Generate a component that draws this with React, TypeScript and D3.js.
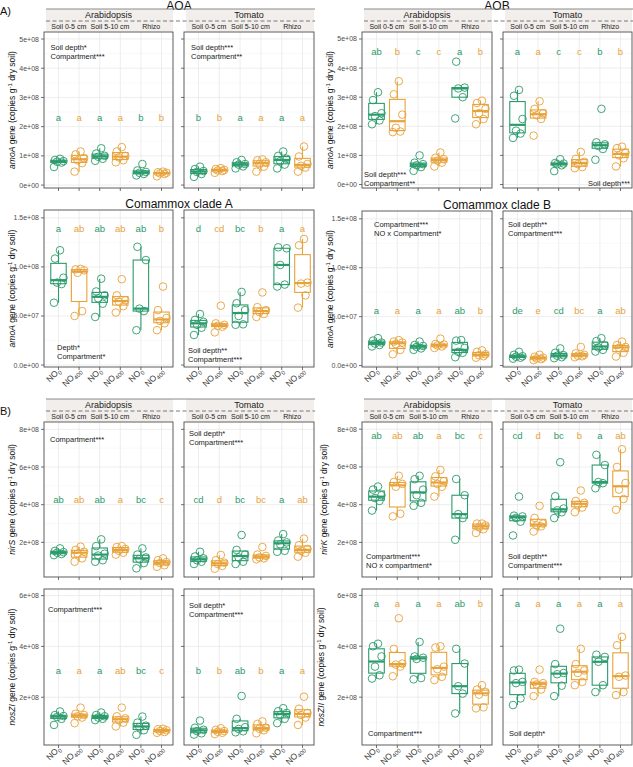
import React from "react";
import * as d3 from "d3";

const W = 633;
const H = 767;
const FONT = "'Liberation Sans', Arial, sans-serif";
const GREEN = "#2b9b6c";
const ORANGE = "#e8a23a";
const STRIP_BG = "#f2eeeb";

// categories
const plants = ["Arabidopsis", "Tomato"];
const compartments = ["Soil 0-5 cm", "Soil 5-10 cm", "Rhizo"];
const treatments = ["0", "400", "0", "400", "0", "400"]; // NO subscript

// ---- AOA amoA (copies x 1e8) ----
const aoaArabidopsis = [
  [0.62, 0.77, 0.8, 0.82, 0.86, 0.9],
  [0.46, 0.75, 0.85, 0.92, 1.05, 1.15],
  [0.83, 0.9, 0.97, 1.0, 1.08, 1.26],
  [0.78, 0.85, 0.95, 1.0, 1.15, 1.3],
  [0.33, 0.38, 0.42, 0.45, 0.5, 0.72],
  [0.3, 0.38, 0.4, 0.42, 0.44, 0.46],
];
const aoaTomato = [
  [0.28, 0.38, 0.45, 0.48, 0.55, 0.63],
  [0.42, 0.48, 0.5, 0.52, 0.55, 0.58],
  [0.57, 0.64, 0.7, 0.72, 0.78, 0.86],
  [0.46, 0.63, 0.72, 0.78, 0.85, 0.88],
  [0.57, 0.7, 0.82, 0.9, 1.0, 1.15],
  [0.46, 0.6, 0.66, 0.72, 0.98, 1.32],
];
const aoaLetters = [["a", "a", "a", "a", "b", "b"], ["b", "b", "a", "a", "a", "a"]];
const aoaStats = [["Soil depth*", "Compartment***"], ["Soil depth***", "Compartment**"]];

// ---- AOB amoA (copies x 1e8) ----
const aobArabidopsis = [
  [2.07, 2.2, 2.35, 2.45, 2.9, 3.17],
  [1.8, 1.82, 1.95, 2.4, 3.1, 3.55],
  [0.47, 0.6, 0.66, 0.7, 0.75, 1.0],
  [0.62, 0.75, 0.82, 0.87, 0.92, 1.1],
  [2.27, 3.0, 3.3, 3.33, 4.22],
  [2.07, 2.25, 2.45, 2.6, 2.8, 2.88],
];
const aobTomato = [
  [1.6, 1.75, 1.85, 2.25, 3.05, 3.25],
  [1.68, 2.25, 2.38, 2.45, 2.6, 2.86],
  [0.46, 0.66, 0.7, 0.72, 0.74, 0.87],
  [0.56, 0.6, 0.7, 0.78, 0.88, 1.12],
  [0.85, 1.22, 1.32, 1.38, 1.45, 2.6],
  [0.62, 0.9, 1.0, 1.1, 1.25, 1.3],
];
const aobLetters = [["ab", "b", "c", "c", "a", "b"], ["a", "a", "c", "c", "b", "b"]];
const aobStats = [["Soil depth***", "Compartment**"], ["Soil depth***"]];

// ---- Comammox clade A amoA (copies x 1e7) ----
const comAArabidopsis = [
  [6.35, 8.25, 8.4, 8.9, 10.85, 11.7],
  [5.0, 5.5, 9.4, 9.65, 9.75, 9.8],
  [4.9, 6.25, 6.8, 7.1, 7.5, 8.8],
  [5.35, 6.0, 6.45, 6.6, 7.1, 8.75],
  [3.55, 5.5, 5.75, 10.7, 12.05],
  [3.55, 4.25, 4.5, 4.8, 5.6, 8.0],
];
const comATomato = [
  [3.06, 3.8, 4.1, 4.4, 4.6, 5.2],
  [3.33, 3.9, 4.0, 4.1, 4.25, 6.05],
  [4.1, 4.15, 5.0, 5.6, 6.3, 7.45],
  [4.9, 5.2, 5.4, 5.6, 5.9, 7.4],
  [8.0, 8.2, 10.2, 11.9, 12.0],
  [5.85, 7.1, 8.3, 8.4, 12.2, 12.85],
];
const comALetters = [["a", "ab", "ab", "ab", "ab", "b"], ["d", "cd", "bc", "b", "a", "a"]];
const comAStats = [["Depth*", "Compartment*"], ["Soil depth**", "Compartment***"]];

// ---- Comammox clade B amoA (copies x 1e7) ----
const comBArabidopsis = [
  [1.95, 2.1, 2.25, 2.35, 2.55, 2.8],
  [1.15, 1.6, 2.2, 2.35, 2.45, 2.6],
  [1.6, 1.75, 1.9, 2.0, 2.1, 2.45],
  [1.8, 1.95, 2.05, 2.15, 2.2, 2.75],
  [0.85, 1.3, 1.4, 1.8, 2.55, 2.6],
  [0.8, 0.95, 1.05, 1.15, 1.4, 1.55],
];
const comBTomato = [
  [0.7, 0.8, 0.9, 0.95, 1.1, 1.4],
  [0.55, 0.65, 0.72, 0.8, 0.9, 1.1],
  [0.75, 0.85, 1.0, 1.05, 1.3, 1.75],
  [0.85, 0.95, 1.0, 1.1, 1.25, 1.9],
  [1.43, 1.6, 1.85, 2.05, 2.5, 2.8],
  [0.92, 1.3, 1.8, 1.9, 2.1, 2.45],
];
const comBLetters = [["a", "a", "a", "a", "ab", "b"], ["de", "e", "cd", "bc", "a", "ab"]];
const comBStats = [["Compartment***", "NO x Compartment*"], ["Soil depth**", "Compartment***"]];

// ---- nirS (copies x 1e8) ----
const nirSArabidopsis = [
  [1.32, 1.38, 1.45, 1.48, 1.55, 1.68],
  [0.97, 1.15, 1.4, 1.5, 1.6, 1.77],
  [0.97, 1.05, 1.3, 1.4, 1.8, 2.16],
  [1.35, 1.45, 1.55, 1.65, 1.75, 1.8],
  [0.62, 0.9, 1.1, 1.2, 1.35, 1.68],
  [0.7, 0.78, 0.9, 0.95, 1.05, 1.15],
];
const nirSTomato = [
  [0.85, 0.97, 1.05, 1.15, 1.25, 1.5],
  [0.6, 0.75, 0.85, 0.92, 1.05, 1.33],
  [0.85, 0.97, 1.2, 1.35, 1.6, 2.39],
  [1.1, 1.15, 1.2, 1.28, 1.35, 1.75],
  [1.5, 1.55, 1.9, 2.0, 2.1, 2.44],
  [1.24, 1.45, 1.55, 1.65, 1.85, 2.2],
];
const nirSLetters = [["ab", "ab", "ab", "a", "bc", "c"], ["cd", "d", "bc", "bc", "a", "ab"]];
const nirSStats = [["Compartment***"], ["Soil depth*", "Compartment***"]];

// ---- nirK (copies x 1e8) ----
const nirKArabidopsis = [
  [3.69, 4.2, 4.35, 4.5, 4.8, 4.96],
  [3.38, 3.52, 4.95, 5.1, 5.2, 5.53],
  [3.94, 4.1, 4.5, 4.8, 5.35, 5.53],
  [4.43, 4.95, 5.1, 5.25, 5.5, 5.84],
  [2.14, 3.29, 3.5, 4.5, 5.36],
  [2.5, 2.7, 2.8, 2.9, 3.0, 3.0],
];
const nirKTomato = [
  [2.37, 3.1, 3.3, 3.38, 3.42, 4.43],
  [2.58, 2.85, 2.9, 3.0, 3.3, 3.94],
  [3.29, 3.6, 3.7, 3.8, 4.45, 6.25],
  [3.6, 3.85, 4.0, 4.1, 4.2, 4.75],
  [4.87, 5.14, 5.2, 6.1, 6.64],
  [3.73, 4.3, 4.8, 5.15, 6.0, 6.94],
];
const nirKLetters = [["ab", "ab", "ab", "a", "bc", "c"], ["cd", "d", "bc", "b", "a", "ab"]];
const nirKStats = [["Compartment***", "NO x compartment*"], ["Soil depth**", "Compartment***"]];

// ---- nosZI (copies x 1e8) ----
const nosZIArabidopsis = [
  [0.91, 1.15, 1.22, 1.26, 1.3, 1.44],
  [0.98, 1.2, 1.25, 1.3, 1.35, 1.59],
  [1.1, 1.15, 1.2, 1.25, 1.3, 1.4],
  [0.85, 1.0, 1.1, 1.17, 1.25, 1.59],
  [0.52, 0.7, 0.82, 0.88, 1.0, 1.24],
  [0.6, 0.63, 0.67, 0.7, 0.74, 0.76],
];
const nosZITomato = [
  [0.53, 0.58, 0.67, 0.72, 0.8, 1.08],
  [0.55, 0.6, 0.64, 0.67, 0.72, 0.78],
  [0.62, 0.66, 0.75, 0.82, 1.15, 2.05],
  [0.58, 0.7, 0.76, 0.8, 0.95, 1.05],
  [0.98, 1.15, 1.3, 1.38, 1.45, 1.57],
  [0.91, 1.2, 1.3, 1.38, 1.55, 2.02],
];
const nosZILetters = [["a", "a", "a", "ab", "bc", "c"], ["b", "b", "ab", "b", "a", "a"]];
const nosZIStats = [["Compartment***"], ["Soil depth*", "Compartment***"]];

// ---- nosZII (copies x 1e8) ----
const nosZIIArabidopsis = [
  [2.73, 2.86, 3.2, 3.6, 4.0, 4.1],
  [2.82, 3.2, 3.28, 3.32, 3.9, 5.1],
  [2.7, 2.75, 3.5, 3.55, 3.6, 4.17],
  [2.67, 2.8, 3.1, 3.2, 3.95, 4.0],
  [1.36, 2.14, 2.43, 3.32, 3.9],
  [1.56, 1.6, 2.1, 2.2, 2.3, 2.47],
];
const nosZIITomato = [
  [1.69, 1.95, 2.55, 2.6, 3.05, 3.08],
  [2.04, 2.3, 2.5, 2.55, 2.6, 3.08],
  [2.04, 2.45, 2.9, 2.95, 3.3, 4.69],
  [2.47, 2.6, 2.95, 3.05, 3.3, 3.9],
  [2.2, 2.47, 3.39, 3.58, 3.67],
  [2.08, 2.2, 2.8, 2.85, 4.04, 4.37],
];
const nosZIILetters = [["a", "a", "a", "a", "ab", "b"], ["a", "a", "a", "a", "a", "a"]];
const nosZIIStats = [["Compartment***"], ["Soil depth*"]];

// tick values / labels
const ticksE8Five = [0, 1, 2, 3, 4, 5];
const labelsE8Five = ["0e+00", "1e+08", "2e+08", "3e+08", "4e+08", "5e+08"];
const ticksE7 = [0, 5, 10, 15];
const labelsE7 = ["0.0e+00", "5.0e+07", "1.0e+08", "1.5e+08"];
const ticksNir = [2, 4, 6, 8];
const labelsNir = ["2e+08", "4e+08", "6e+08", "8e+08"];
const ticksNos = [2, 4, 6];
const labelsNos = ["2e+08", "4e+08", "6e+08"];

// layout
const PANEL_X: Record<string, number[][]> = {
  L: [[44, 173], [184, 314]],
  R: [[362, 492], [503, 632]],
};
const JITTER = [-4.5, 3, -1.5, 5, -3.5, 1.5];

const blocks = [
  {
    title: "AOA", titleY: 9.5, gene: "amoA", side: "L", top: 32, bottom: 188, domain: [-0.1, 5.24],
    ticks: ticksE8Five, tickLabels: labelsE8Five, data: [aoaArabidopsis, aoaTomato],
    letters: aoaLetters, stats: aoaStats, letterY: 2.33, strips: true, xLabels: false, yTitleX: 14.5,
    statAt: [{ dx: 6.5, dy: 17.5 }, { dx: 7, dy: 17.5 }],
  },
  {
    title: "AOB", titleY: 9.5, gene: "amoA", side: "R", top: 32, bottom: 188, domain: [-0.12, 5.24],
    ticks: ticksE8Five, tickLabels: labelsE8Five, data: [aobArabidopsis, aobTomato],
    letters: aobLetters, stats: aobStats, letterY: 4.57, strips: true, xLabels: false, yTitleX: 333,
    statAt: [{ dx: 2, dy: 144.5 }, { dx: -2, dy: 153.5, end: true }],
  },
  {
    title: "Comammox clade A", titleY: 207.5, gene: "amoA", side: "L", top: 210, bottom: 367, domain: [-0.2, 15.8],
    ticks: ticksE7, tickLabels: labelsE7, data: [comAArabidopsis, comATomato],
    letters: comALetters, stats: comAStats, letterY: 13.9, strips: false, xLabels: true, yTitleX: 14.5,
    statAt: [{ dx: 13, dy: 139.5 }, { dx: 4, dy: 142.5 }],
  },
  {
    title: "Comammox clade B", titleY: 209, gene: "amoA", side: "R", top: 211, bottom: 367, domain: [-0.15, 15.8],
    ticks: ticksE7, tickLabels: labelsE7, data: [comBArabidopsis, comBTomato],
    letters: comBLetters, stats: comBStats, letterY: 5.58, strips: false, xLabels: true, yTitleX: 333,
    statAt: [{ dx: 12, dy: 15.5 }, { dx: 5, dy: 15.5 }],
  },
  {
    gene: "nirS", side: "L", top: 422, bottom: 577, domain: [0.16, 8.39],
    ticks: ticksNir, tickLabels: labelsNir, data: [nirSArabidopsis, nirSTomato],
    letters: nirSLetters, stats: nirSStats, letterY: 4.28, strips: true, xLabels: false, yTitleX: 14.5,
    statAt: [{ dx: 6, dy: 19.5 }, { dx: 5, dy: 13.5 }],
  },
  {
    gene: "nirK", side: "R", top: 422, bottom: 577, domain: [0.17, 8.38],
    ticks: ticksNir, tickLabels: labelsNir, data: [nirKArabidopsis, nirKTomato],
    letters: nirKLetters, stats: nirKStats, letterY: 7.65, strips: true, xLabels: false, yTitleX: 327,
    statAt: [{ dx: 4, dy: 136.5 }, { dx: 5, dy: 136.5 }],
  },
  {
    gene: "nosZI", side: "L", top: 589, bottom: 745, domain: [0.12, 6.26],
    ticks: ticksNos, tickLabels: labelsNos, data: [nosZIArabidopsis, nosZITomato],
    letters: nosZILetters, stats: nosZIStats, letterY: 3.04, strips: false, xLabels: true, yTitleX: 14.5,
    statAt: [{ dx: 4, dy: 22.5 }, { dx: 5, dy: 18.5 }],
  },
  {
    gene: "nosZII", side: "R", top: 589, bottom: 745, domain: [0.12, 6.25],
    ticks: ticksNos, tickLabels: labelsNos, data: [nosZIIArabidopsis, nosZIITomato],
    letters: nosZIILetters, stats: nosZIIStats, letterY: 5.67, strips: false, xLabels: true, yTitleX: 324,
    statAt: [{ dx: 6, dy: 146.5 }, { dx: 6, dy: 146.5 }],
  },
];

function boxStats(values: number[]) {
  const s = [...values].sort(d3.ascending);
  const q1 = d3.quantileSorted(s, 0.25) as number;
  const med = d3.quantileSorted(s, 0.5) as number;
  const q3 = d3.quantileSorted(s, 0.75) as number;
  const iqr = q3 - q1;
  const lo = d3.min(s.filter((v) => v >= q1 - 1.5 * iqr)) as number;
  const hi = d3.max(s.filter((v) => v <= q3 + 1.5 * iqr)) as number;
  return { q1, med, q3, lo, hi };
}

function Strips({ panels, top }: { panels: number[][]; top: number }) {
  const left = panels[0][0] + 2;
  const right = panels[1][1] + 1;
  return (
    <g>
      {panels.map(([x0, x1], p) => {
        const x = d3.scalePoint<number>().domain(d3.range(6)).range([x0 + 14.5, x1 - 11.5]);
        return (
          <g key={p}>
            <rect x={x0 + 2} y={top - 23} width={x1 - x0 - 2} height={12} fill={STRIP_BG} />
            <rect x={x0 + 2} y={top - 11} width={x1 - x0 - 2} height={10.5} fill={STRIP_BG} />
            <text x={(x0 + x1) / 2} y={top - 14} fontSize={9} textAnchor="middle" fill="#1a1a1a">
              {plants[p]}
            </text>
            {compartments.map((c, k) => (
              <text key={c} x={((x(2 * k) as number) + (x(2 * k + 1) as number)) / 2} y={top - 2.6}
                fontSize={7} textAnchor="middle" fill="#1a1a1a">{c}</text>
            ))}
          </g>
        );
      })}
      <line x1={left} x2={right} y1={top - 23} y2={top - 23} stroke="#8a8a8a" strokeWidth={1} />
      <line x1={left} x2={right} y1={top - 11} y2={top - 11} stroke="#6a6a6a" strokeWidth={0.9} strokeDasharray="4,2.5" />
    </g>
  );
}

function Panel({ b, p, x0, x1, y }: any) {
  const x = d3.scalePoint<number>().domain(d3.range(6)).range([x0 + 14.5, x1 - 11.5]);
  const step = x.step();
  const hw = step * 0.375;
  const { top, bottom } = b;
  const minor = b.ticks.slice(0, -1).map((t: number, i: number) => (t + b.ticks[i + 1]) / 2);
  const tStep = b.ticks[1] - b.ticks[0];
  const extra = [b.ticks[0] - tStep / 2, b.ticks[b.ticks.length - 1] + tStep / 2];
  const minorAll = [...minor, ...extra].filter((v) => v > b.domain[0] && v < b.domain[1]);
  const at = b.statAt[p];
  return (
    <g>
      <rect x={x0} y={top} width={x1 - x0} height={bottom - top} fill="#fff" />
      {minorAll.map((v: number, i: number) => (
        <line key={"mn" + i} x1={x0} x2={x1} y1={y(v)} y2={y(v)} stroke="#f3f3f3" strokeWidth={0.5} />
      ))}
      {b.ticks.map((v: number) => (
        <line key={"mj" + v} x1={x0} x2={x1} y1={y(v)} y2={y(v)} stroke="#e6e6e6" strokeWidth={0.7} />
      ))}
      {d3.range(6).map((i) => (
        <line key={"vx" + i} x1={x(i)} x2={x(i)} y1={top} y2={bottom} stroke="#e6e6e6" strokeWidth={0.7} />
      ))}
      {b.letters[p].map((l: string, i: number) => (
        <text key={"lt" + i} x={x(i)} y={y(b.letterY) + 3.5} fontSize={9.5} textAnchor="middle"
          fill={i % 2 === 0 ? GREEN : ORANGE}>{l}</text>
      ))}
      {b.data[p].map((vals: number[], i: number) => {
        const s = boxStats(vals);
        const cx = x(i) as number;
        const col = i % 2 === 0 ? GREEN : ORANGE;
        return (
          <g key={"bx" + i}>
            <line x1={cx} x2={cx} y1={y(s.hi)} y2={y(s.q3)} stroke={col} strokeWidth={1.1} />
            <line x1={cx} x2={cx} y1={y(s.q1)} y2={y(s.lo)} stroke={col} strokeWidth={1.1} />
            <rect x={cx - hw} y={y(s.q3)} width={2 * hw} height={Math.max(0.5, y(s.q1) - y(s.q3))}
              fill="#fff" stroke={col} strokeWidth={1.1} />
            <line x1={cx - hw} x2={cx + hw} y1={y(s.med)} y2={y(s.med)} stroke={col} strokeWidth={2.2} />
            {vals.map((v, j) => (
              <circle key={j} cx={cx + JITTER[j % JITTER.length]} cy={y(v)} r={3.8} fill="none"
                stroke={col} strokeWidth={0.9} />
            ))}
          </g>
        );
      })}
      {b.stats[p].map((s: string, k: number) => (
        <text key={"st" + k} x={at.end ? x1 + at.dx : x0 + at.dx} y={top + at.dy + k * 9.5} fontSize={7.5}
          textAnchor={at.end ? "end" : "start"} fill="#1a1a1a">{s}</text>
      ))}
      <rect x={x0} y={top} width={x1 - x0} height={bottom - top} fill="none" stroke="#4d4d4d" strokeWidth={0.9} />
      {b.ticks.map((v: number, k: number) => (
        <g key={"yt" + v}>
          <line x1={x0 - 3} x2={x0} y1={y(v)} y2={y(v)} stroke="#4d4d4d" strokeWidth={0.8} />
          {p === 0 && (
            <text x={x0 - 5} y={y(v) + 2.5} fontSize={7} textAnchor="end" fill="#4d4d4d">{b.tickLabels[k]}</text>
          )}
        </g>
      ))}
      {d3.range(6).map((i) => (
        <line key={"xt" + i} x1={x(i)} x2={x(i)} y1={bottom} y2={bottom + 3} stroke="#4d4d4d" strokeWidth={0.8} />
      ))}
      {b.xLabels && treatments.map((t, i) => (
        <text key={"xl" + i} transform={`translate(${(x(i) as number) + 2.5},${bottom + 4.5}) rotate(-45)`}
          fontSize={8.5} textAnchor="end" fill="#333">
          NO<tspan dy={2.2} fontSize={5.8}>{t}</tspan>
        </text>
      ))}
    </g>
  );
}

function GeneBlock({ b }: any) {
  const y = d3.scaleLinear().domain(b.domain).range([b.bottom, b.top]);
  const panels = PANEL_X[b.side];
  const cy = (b.top + b.bottom) / 2;
  return (
    <g>
      {b.title && (
        <text x={(panels[0][0] + panels[1][1]) / 2} y={b.titleY} fontSize={12} textAnchor="middle" fill="#111">
          {b.title}
        </text>
      )}
      {b.strips && <Strips panels={panels} top={b.top} />}
      <text transform={`translate(${b.yTitleX},${cy}) rotate(-90)`} fontSize={8.5} textAnchor="middle" fill="#111">
        <tspan fontStyle="italic">{b.gene}</tspan> gene (copies g<tspan dy={-3} fontSize={6}>-1</tspan>
        <tspan dy={3}> dry soil)</tspan>
      </text>
      {panels.map(([x0, x1], p) => (
        <Panel key={p} b={b} p={p} x0={x0} x1={x1} y={y} />
      ))}
    </g>
  );
}

export default function App() {
  return (
    <svg width={W} height={H} style={{ position: "absolute", left: 0, top: 0 }} fontFamily={FONT}>
      <rect width={W} height={H} fill="#fff" />
      <text x={0} y={15} fontSize={11} fill="#111">A)</text>
      <text x={0} y={415} fontSize={11} fill="#111">B)</text>
      {blocks.map((b, i) => (
        <GeneBlock key={i} b={b} />
      ))}
    </svg>
  );
}
